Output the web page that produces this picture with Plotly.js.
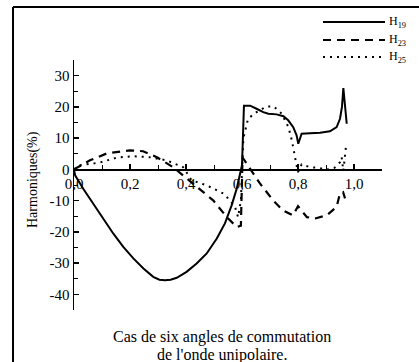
<!DOCTYPE html>
<html><head><meta charset="utf-8">
<script src="https://cdn.plot.ly/plotly-3.0.1.min.js"></script>
<style>html,body{margin:0;padding:0;background:#fff;overflow:hidden}</style>
</head><body><div id="chart" style="width:419px;height:362px"></div>
<script>
const h19X = [0, 0.004, 0.033, 0.069, 0.105, 0.14, 0.176, 0.212, 0.248, 0.283, 0.305, 0.325, 0.345, 0.367, 0.402, 0.438, 0.474, 0.51, 0.539, 0.563, 0.581, 0.595, 0.6, 0.607, 0.629, 0.652, 0.676, 0.694, 0.724, 0.748, 0.765, 0.783, 0.795, 0.801, 0.813, 0.843, 0.879, 0.914, 0.938, 0.95, 0.957, 0.962, 0.968, 0.974];
const h19Y = [0, -1.9, -6.2, -11, -15.8, -20.5, -24.8, -28.5, -31.7, -34.4, -35.3, -35.5, -35.3, -34.7, -32.8, -30.1, -26.9, -22.1, -17.3, -11.5, -6.2, -0.9, 1.3, 20.4, 20.4, 19.4, 18.3, 17.8, 17.6, 17.0, 15.7, 13.5, 10.9, 8.2, 11.4, 11.6, 11.7, 12.2, 13.5, 16.2, 20, 26, 20, 14.6];

const h23X = [0, 0.057, 0.117, 0.2, 0.247, 0.296, 0.354, 0.439, 0.497, 0.546, 0.582, 0.596, 0.602, 0.64, 0.664, 0.711, 0.746, 0.782, 0.8, 0.832, 0.861, 0.903, 0.938, 0.95, 0.961, 0.968];
const h23Y = [0, 2.9, 5.1, 6.1, 5.8, 3.9, 0.7, -5.7, -9.9, -15.3, -18.5, -18, 3.8, -1.3, -4.5, -9.9, -13.1, -14.7, -11.8, -15.3, -15.7, -14.7, -12, -7.7, -7.3, -9.3];

const h25X = [0, 0.02, 0.093, 0.154, 0.21, 0.27, 0.33, 0.39, 0.42, 0.474, 0.533, 0.557, 0.575, 0.586, 0.596, 0.605, 0.622, 0.652, 0.686, 0.714, 0.742, 0.766, 0.778, 0.784, 0.789, 0.795, 0.8, 0.813, 0.843, 0.873, 0.902, 0.93, 0.95, 0.956, 0.962, 0.968, 0.971];
const h25Y = [0, 1.3, 2.2, 3.8, 4.2, 3.9, 2.9, 0.7, -3.5, -5.1, -7.7, -9.9, -12, -15.3, -10, 10, 16.3, 18.3, 20.1, 20.1, 17.8, 13.5, 9.3, 6.1, 3.9, 1.3, -0.9, 1.6, 0.7, 0.5, -0.1, 0.5, 2.3, 3.9, -0.5, 4.5, 7.1];

const seriesNames = ['H<sub>19</sub>', 'H<sub>23</sub>', 'H<sub>25</sub>'];
const xTickVals = [0, 0.2, 0.4, 0.6, 0.8, 1.0];
const xTickText = ['0,0', '0,2', '0,4', '0,6', '0,8', '1,0'];
const yTickVals = [-40, -30, -20, -10, 0, 10, 20, 30];
const yTickText = ['-40', '-30', '-20', '-10', '0', '10', '20', '30'];
const yTitle = 'Harmoniques(%)';
const caption1 = 'Cas de six angles de commutation';
const caption2 = "de l'onde unipolaire.";

const FONT = 'Liberation Serif, Times New Roman, serif';
const W = 419, H = 362;
const M = {l: 74, r: 37, t: 60, b: 52};
const PW = W - M.l - M.r, PH = H - M.t - M.b;
const px = x => (x - M.l) / PW;
const py = y => (H - M.b - y) / PH;

const dashes = ['solid', '8px,6px', '2px,5px'];
const widths = [2, 2.2, 2];
const xs = [h19X, h23X, h25X];
const ys = [h19Y, h23Y, h25Y];

const data = xs.map((x, i) => ({
  x: x, y: ys[i], type: 'scatter', mode: 'lines', name: seriesNames[i],
  line: {color: '#000', width: widths[i], dash: dashes[i]}, showlegend: false,
  hoverinfo: 'skip'
}));

const legY = [22, 40, 57];
const shapes = [
  {type: 'line', xref: 'paper', yref: 'paper', x0: px(13), x1: px(13), y0: py(7), y1: py(380), line: {color: '#000', width: 2}},
  {type: 'line', xref: 'paper', yref: 'paper', x0: px(13), x1: px(425), y0: py(7), y1: py(7), line: {color: '#000', width: 2}}
];
const annotations = [];
legY.forEach((y, i) => {
  shapes.push({type: 'line', xref: 'paper', yref: 'paper', x0: px(323), x1: px(385), y0: py(y), y1: py(y),
    line: {color: '#000', width: widths[i], dash: dashes[i]}});
  annotations.push({xref: 'paper', yref: 'paper', x: px(387), y: py(y), xanchor: 'left', yanchor: 'middle',
    text: seriesNames[i], showarrow: false, font: {family: FONT, size: 12, color: '#000'}});
});
annotations.push({xref: 'paper', yref: 'paper', x: px(33), y: py(180), textangle: -90, text: yTitle,
  showarrow: false, xanchor: 'center', yanchor: 'middle', font: {family: FONT, size: 14, color: '#000'}});
annotations.push({xref: 'paper', yref: 'paper', x: px(222), y: py(337), text: caption1,
  showarrow: false, xanchor: 'center', yanchor: 'middle', font: {family: FONT, size: 16, color: '#000'}});
annotations.push({xref: 'paper', yref: 'paper', x: px(222), y: py(355), text: caption2,
  showarrow: false, xanchor: 'center', yanchor: 'middle', font: {family: FONT, size: 16, color: '#000'}});

const layout = {
  width: W, height: H, margin: M,
  paper_bgcolor: '#fff', plot_bgcolor: 'rgba(0,0,0,0)',
  font: {family: FONT, color: '#000'},
  showlegend: false,
  xaxis: {
    range: [0, 1.1], anchor: 'free', position: 45 / 80,
    showline: true, linecolor: '#000', linewidth: 1.5,
    ticks: 'inside', ticklen: 5, tickwidth: 1.5, tickcolor: '#000',
    tickmode: 'array', tickvals: xTickVals, ticktext: xTickText,
    tickfont: {family: FONT, size: 15, color: '#000'},
    showgrid: false, zeroline: false,
    minor: {tick0: 0, dtick: 0.1, ticks: 'inside', ticklen: 4, tickwidth: 1, tickcolor: '#000', showgrid: false}
  },
  yaxis: {
    range: [-45, 35],
    showline: true, linecolor: '#000', linewidth: 1.5,
    ticks: 'inside', ticklen: 5, tickwidth: 1.5, tickcolor: '#000',
    tickmode: 'array', tickvals: yTickVals, ticktext: yTickText,
    tickfont: {family: FONT, size: 15, color: '#000'},
    showgrid: false, zeroline: false,
    minor: {tick0: 0, dtick: 5, ticks: 'inside', ticklen: 4, tickwidth: 1, tickcolor: '#000', showgrid: false}
  },
  shapes: shapes,
  annotations: annotations
};

Plotly.newPlot('chart', data, layout, {staticPlot: true, displayModeBar: false});
</script>
</body></html>
